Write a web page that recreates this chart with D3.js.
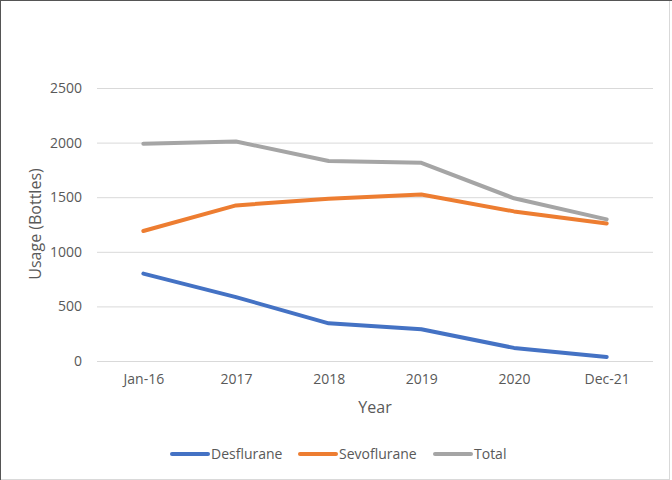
<!DOCTYPE html>
<html><head><meta charset="utf-8">
<script src="https://cdn.jsdelivr.net/npm/d3@7"></script>
<style>body{margin:0;background:#fff;} text{font-family:"Open Sans","Liberation Sans",sans-serif;}</style>
</head><body>
<script>
const categories = ["Jan-16","2017","2018","2019","2020","Dec-21"];
const desflurane = [800, 585, 345, 290, 120, 37];
const sevoflurane = [1190, 1425, 1486, 1525, 1370, 1260];
const total = [1990, 2010, 1831, 1815, 1490, 1297];
const yTicks = [0, 500, 1000, 1500, 2000, 2500];
const seriesNames = ["Desflurane","Sevoflurane","Total"];
const colors = ["#4472C4","#ED7D31","#A5A5A5"];

(function(){
const W = 672, H = 480;
const svg = d3.select("body").append("svg").attr("width", W).attr("height", H);
svg.append("rect").attr("x",0.5).attr("y",0.5).attr("width",W-3).attr("height",H-1)
  .attr("fill","#fff").attr("stroke","#d9d9d9");
svg.append("line").attr("x1",0.5).attr("y1",0).attr("x2",0.5).attr("y2",H).attr("stroke","#555");
svg.append("line").attr("x1",0).attr("y1",0.5).attr("x2",W).attr("y2",0.5).attr("stroke","#555");

const mL = 97, mR = 653, mT = 88, mB = 361;
const x = d3.scalePoint().domain(categories).range([mL, mR]).padding(0.5);
const y = d3.scaleLinear().domain([0, 2500]).range([mB, mT]);

const gy = svg.append("g").attr("transform", `translate(${mL},0)`)
  .call(d3.axisLeft(y).tickValues(yTicks).tickFormat(d3.format("d")).tickSize(-(mR-mL)).tickPadding(15));
gy.select(".domain").remove();
gy.selectAll(".tick line").attr("stroke","#d9d9d9");
gy.selectAll(".tick text").attr("fill","#595959").style("font-size","14px");

const gx = svg.append("g").attr("transform", `translate(0,${mB})`)
  .call(d3.axisBottom(x).tickSize(0).tickPadding(13));
gx.select(".domain").remove();
gx.selectAll(".tick text").attr("fill","#595959").style("font-size","14px");

svg.append("text").attr("transform","translate(41,224) rotate(-90)").attr("text-anchor","middle")
  .attr("fill","#595959").style("font-size","16px").text("Usage (Bottles)");
svg.append("text").attr("x",375).attr("y",413).attr("text-anchor","middle")
  .attr("fill","#595959").style("font-size","16px").text("Year");

const data = [desflurane, sevoflurane, total];
const line = d3.line().x((d,i)=>x(categories[i])).y(d=>y(d));
data.forEach((s, k) => {
  svg.append("path").datum(s).attr("d", line).attr("fill","none")
    .attr("stroke", colors[k]).attr("stroke-width", 4).attr("stroke-linejoin","round").attr("stroke-linecap","round");
});

const legX = [172, 300, 435];
seriesNames.forEach((n,k) => {
  const g = svg.append("g").attr("transform", `translate(${legX[k]},454)`);
  g.append("line").attr("x1",0).attr("x2",36).attr("stroke",colors[k]).attr("stroke-width",4).attr("stroke-linecap","round");
  g.append("text").attr("x",39).attr("y",5).attr("fill","#595959").style("font-size","14px").text(n);
});
})();
</script>
</body></html>
